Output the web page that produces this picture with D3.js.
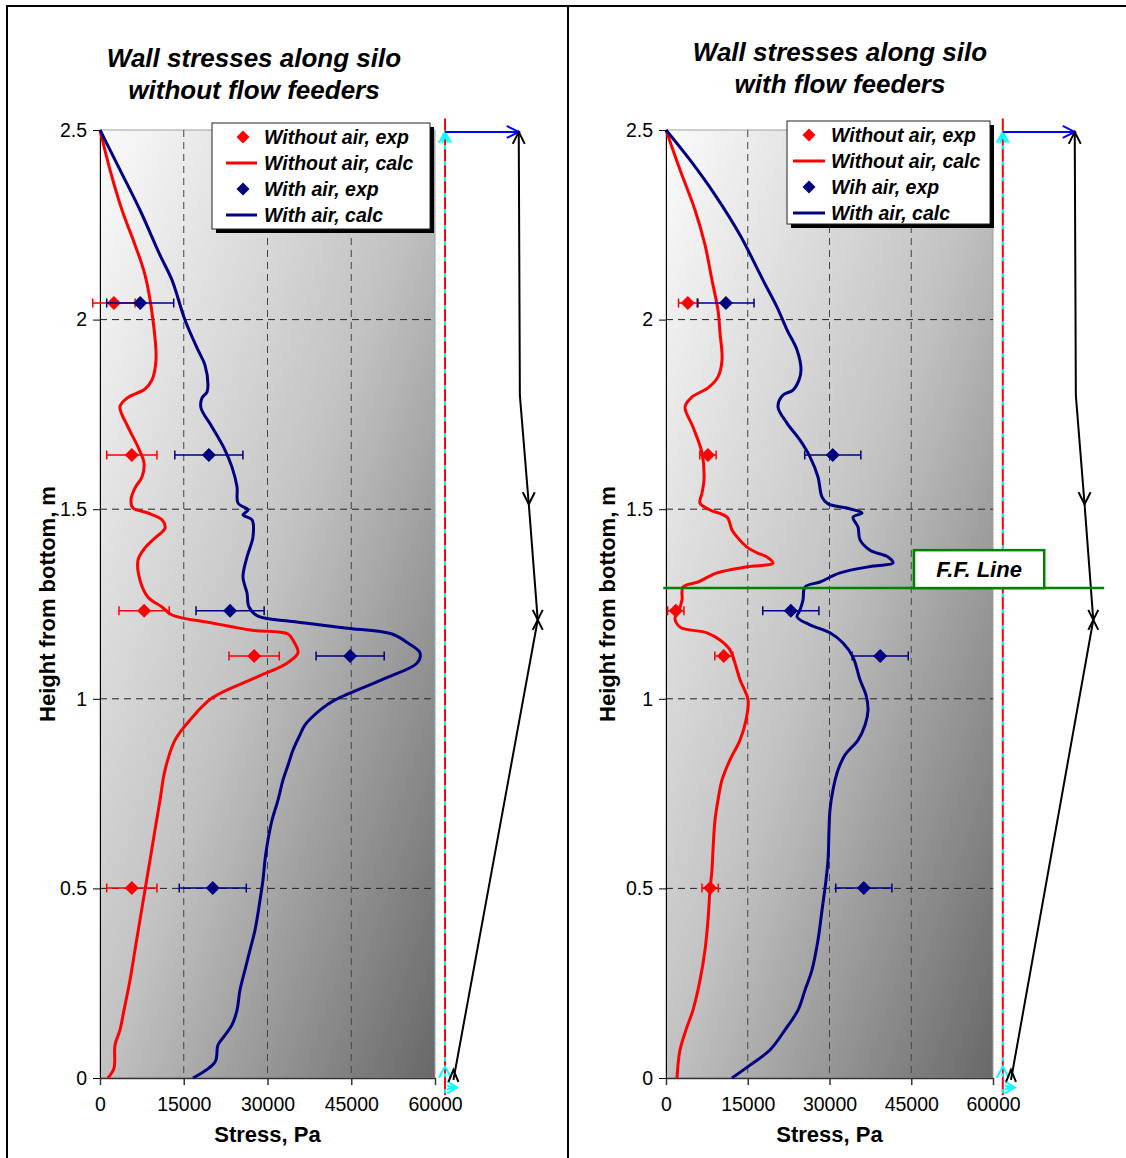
<!DOCTYPE html>
<html>
<head>
<meta charset="utf-8">
<script src="https://cdnjs.cloudflare.com/ajax/libs/d3/7.8.5/d3.min.js"></script>
<style>
  body { margin: 0; background: #fff; }
  svg { display: block; font-family: Arial, "Liberation Sans", sans-serif; }
</style>
</head>
<body>
<div id="chart"></div>
<script>

var heightTicks = [0, 0.5, 1, 1.5, 2, 2.5];
var stressTicks = [0, 15000, 30000, 45000, 60000];

// heights of the measuring points, m
var expHeights = [2.044, 1.643, 1.232, 1.113, 0.501];

// silo without flow feeders
var plainNoAirExp = [2500, 5700, 7900, 27600, 5700];
var plainNoAirErr = [3800, 4500, 4500, 4500, 4500];
var plainAirExp = [7200, 19500, 23300, 44800, 20200];
var plainAirErr = [6000, 6100, 6100, 6100, 6000];

// [stress Pa, height m]
var plainNoAirCalc = [
  [0, 2.5], [1790, 2.395], [3940, 2.289], [6270, 2.197], [8060, 2.118], [9490, 1.999],
  [10030, 1.894], [9310, 1.841], [8060, 1.817], [4840, 1.793], [3580, 1.770], [5010, 1.717],
  [6810, 1.664], [7880, 1.622], [7520, 1.585], [6270, 1.556], [5550, 1.524], [5910, 1.503],
  [8600, 1.490], [11100, 1.472], [11640, 1.450], [9850, 1.424], [8060, 1.398], [6810, 1.366],
  [7160, 1.313], [8600, 1.268], [11100, 1.242], [12900, 1.221], [20060, 1.200], [27220, 1.181],
  [33670, 1.171], [34750, 1.150], [35460, 1.121], [33490, 1.094], [27760, 1.055], [20060, 1.002],
  [16120, 0.944], [13430, 0.891], [11640, 0.812], [10750, 0.733], [9850, 0.654], [8960, 0.575],
  [8060, 0.496], [7160, 0.417], [6270, 0.338], [5370, 0.258], [4300, 0.179], [3580, 0.127],
  [2690, 0.087], [2500, 0.026], [1430, 0]
];
var plainAirCalc = [
  [0, 2.5], [3580, 2.395], [7160, 2.289], [10750, 2.170], [12900, 2.104], [15220, 1.999],
  [17550, 1.920], [18800, 1.880], [19340, 1.828], [19160, 1.809], [18260, 1.793], [18090, 1.767],
  [20060, 1.717], [22390, 1.656], [23640, 1.611], [24540, 1.559], [24720, 1.516], [26510, 1.498],
  [25610, 1.485], [27220, 1.472], [27400, 1.427], [26330, 1.374], [25610, 1.321], [26330, 1.279],
  [26690, 1.242], [28300, 1.218], [34920, 1.203], [43880, 1.187], [52300, 1.171], [55160, 1.147],
  [57310, 1.121], [56770, 1.094], [51580, 1.057], [42090, 0.997], [39400, 0.970], [36720, 0.931],
  [35820, 0.905], [34570, 0.865], [33670, 0.825], [32780, 0.786], [31880, 0.733], [30810, 0.680],
  [30090, 0.628], [29550, 0.575], [29190, 0.522], [28660, 0.469], [27760, 0.390], [26870, 0.338],
  [25970, 0.285], [25070, 0.232], [24540, 0.179], [23640, 0.140], [22390, 0.113], [21130, 0.087],
  [20600, 0.042], [16660, 0]
];

// silo with flow feeders
var feedNoAirExp = [4000, 7700, 1800, 10600, 8100];
var feedNoAirErr = [1700, 1500, 1500, 1650, 1500];
var feedAirExp = [11000, 30600, 22900, 39300, 36300];
var feedAirErr = [5150, 5150, 5150, 5150, 5150];

var feedNoAirCalc = [
  [0, 2.5], [2570, 2.395], [5320, 2.289], [7160, 2.197], [8440, 2.104], [9540, 2.025],
  [9910, 1.965], [10280, 1.894], [9540, 1.849], [7710, 1.820], [4770, 1.796], [3490, 1.770],
  [4950, 1.717], [6610, 1.648], [6970, 1.577], [6610, 1.543], [6240, 1.516], [8070, 1.498],
  [11190, 1.479], [12110, 1.445], [13030, 1.427], [14860, 1.400], [16700, 1.385], [18530, 1.374],
  [19630, 1.358], [14860, 1.348], [9360, 1.332], [5870, 1.308], [3120, 1.295], [2940, 1.261],
  [2200, 1.226], [1650, 1.213], [2570, 1.189], [7520, 1.174], [9910, 1.155], [11740, 1.129],
  [13030, 1.076], [13580, 1.050], [15050, 0.997], [14680, 0.944], [13580, 0.891], [11740, 0.839],
  [10280, 0.786], [9540, 0.733], [8990, 0.680], [8620, 0.601], [8440, 0.549], [8070, 0.496],
  [7710, 0.417], [7160, 0.338], [6240, 0.258], [4950, 0.179], [3670, 0.127], [2570, 0.074],
  [2200, 0.034], [2020, 0]
];
var feedAirCalc = [
  [0, 2.5], [4400, 2.421], [8990, 2.329], [13580, 2.223], [17800, 2.104], [20370, 2.033],
  [22200, 1.973], [24040, 1.920], [24770, 1.867], [24410, 1.841], [23300, 1.814], [21470, 1.801],
  [20550, 1.770], [22200, 1.727], [24590, 1.682], [26420, 1.638], [27890, 1.585], [28630, 1.532],
  [29730, 1.514], [33210, 1.503], [35970, 1.490], [34310, 1.479], [35230, 1.453], [35600, 1.419],
  [37430, 1.392], [40740, 1.374], [41650, 1.358], [37980, 1.350], [31930, 1.332], [28260, 1.308],
  [25510, 1.295], [25140, 1.261], [24590, 1.234], [24040, 1.216], [26420, 1.195], [30090, 1.174],
  [32480, 1.147], [34310, 1.110], [35600, 1.050], [36700, 1.010], [37070, 0.970], [36520, 0.931],
  [35230, 0.891], [32850, 0.852], [31560, 0.812], [30640, 0.760], [30090, 0.707], [29910, 0.654],
  [29730, 0.575], [29360, 0.522], [28630, 0.443], [27890, 0.364], [26790, 0.285], [25510, 0.232],
  [24220, 0.179], [21840, 0.127], [19080, 0.074], [15410, 0.034], [12110, 0]
];

var plainLegend = ["Without air, exp", "Without air, calc", "With air, exp", "With air, calc"];
var feedLegend = ["Without air, exp", "Without air, calc", "Wih air, exp", "With air, calc"];

// sketch on the right of each plot (stress / height units)
var wallStress = 61800;
var wallTop = 2.53, wallBottom = -0.045;
var profileStress = [75000, 75200, 76800, 78400, 63300];
var profileHeight = [2.495, 1.80, 1.513, 1.208, -0.005];

// flow feeder line
var ffHeight = 1.292;
var ffStart = -500, ffEnd = 80400;
var ffBoxStress = [45500, 69400], ffBoxTop = 1.392;

var W = 1126, H = 1158;
var plotTop = 130, plotBottom = 1078;
var RED = "#ff0000", NAVY = "#000080";

var svg = d3.select("#chart").append("svg")
    .attr("width", W)
    .attr("height", H);

var defs = svg.append("defs");
var grad = defs.append("linearGradient").attr("id", "plotFill")
    .attr("x1", 0).attr("y1", 0).attr("x2", 1).attr("y2", 1);
grad.append("stop").attr("offset", "0%").attr("stop-color", "#fbfbfb");
grad.append("stop").attr("offset", "50%").attr("stop-color", "#c2c2c2");
grad.append("stop").attr("offset", "100%").attr("stop-color", "#686868");

// outer frame + divider
svg.append("rect")
    .attr("x", 7).attr("y", 6).attr("width", 1130).attr("height", 1170)
    .attr("fill", "none").attr("stroke", "#000").attr("stroke-width", 2);
svg.append("line")
    .attr("x1", 568).attr("x2", 568).attr("y1", 6).attr("y2", H)
    .attr("stroke", "#000").attr("stroke-width", 2);

function diamond(s) {
  return "M0," + (-s) + "L" + s + ",0L0," + s + "L" + (-s) + ",0Z";
}

var panels = [
  {
    left: 100, right: 435, titleX: 254, titleY: [67, 99],
    title: ["Wall stresses along silo", "without flow feeders"],
    noAirCalc: plainNoAirCalc, airCalc: plainAirCalc,
    noAirExp: plainNoAirExp, noAirErr: plainNoAirErr,
    airExp: plainAirExp, airErr: plainAirErr,
    legend: { x: 212, y: 123, w: 218, h: 106, sym: 31, line: [14, 45], text: 52 },
    labels: plainLegend, ff: false, yLabelX: 55
  },
  {
    left: 666, right: 993, titleX: 840, titleY: [61, 93],
    title: ["Wall stresses along silo", "with flow feeders"],
    noAirCalc: feedNoAirCalc, airCalc: feedAirCalc,
    noAirExp: feedNoAirExp, noAirErr: feedNoAirErr,
    airExp: feedAirExp, airErr: feedAirErr,
    legend: { x: 787, y: 121, w: 203, h: 103, sym: 22, line: [6, 38], text: 44 },
    labels: feedLegend, ff: true, yLabelX: 615
  }
];

panels.forEach(function(p) {
  var x = d3.scaleLinear().domain([0, 60000]).range([p.left, p.right]);
  var y = d3.scaleLinear().domain([0, 2.5]).range([plotBottom, plotTop]);
  var g = svg.append("g");

  g.append("rect")
      .attr("x", p.left).attr("y", plotTop)
      .attr("width", p.right - p.left).attr("height", plotBottom - plotTop)
      .attr("fill", "url(#plotFill)").attr("stroke", "#a0a0a0");

  // dashed grid
  g.selectAll(".vgrid").data(stressTicks.slice(1, -1)).enter().append("line")
      .attr("x1", d => x(d)).attr("x2", d => x(d))
      .attr("y1", plotTop).attr("y2", plotBottom)
      .attr("stroke", "#444").attr("stroke-dasharray", "7,5");
  g.selectAll(".hgrid").data(heightTicks.slice(1, -1)).enter().append("line")
      .attr("x1", p.left).attr("x2", p.right)
      .attr("y1", d => y(d)).attr("y2", d => y(d))
      .attr("stroke", "#222").attr("stroke-dasharray", "7,5");

  var yAxis = d3.axisLeft(y).tickValues(heightTicks).tickFormat(d3.format(""))
      .tickSize(7).tickSizeOuter(0).tickPadding(6);
  var ya = g.append("g").attr("transform", "translate(" + p.left + ",0)").call(yAxis);
  ya.attr("font-size", 19.5).attr("font-family", "Arial, 'Liberation Sans', sans-serif");
  ya.selectAll("line, path").attr("stroke", "#000");

  var xAxis = d3.axisBottom(x).tickValues(stressTicks).tickFormat(d3.format("d"))
      .tickSize(7).tickSizeOuter(0).tickPadding(12);
  var xa = g.append("g").attr("transform", "translate(0," + plotBottom + ")").call(xAxis);
  xa.attr("font-size", 19.5).attr("font-family", "Arial, 'Liberation Sans', sans-serif");
  xa.selectAll("line, path").attr("stroke", "#333").attr("stroke-width", 1.5);

  // calc curves
  var line = d3.line().x(d => x(d[0])).y(d => y(d[1])).curve(d3.curveCatmullRom.alpha(0.5));
  g.append("path").datum(p.noAirCalc).attr("d", line)
      .attr("fill", "none").attr("stroke", RED).attr("stroke-width", 3);
  g.append("path").datum(p.airCalc).attr("d", line)
      .attr("fill", "none").attr("stroke", NAVY).attr("stroke-width", 3);

  // exp points with error bars
  function expSeries(vals, errs, color) {
    var pts = vals.map((v, i) => ({ v: v, e: errs[i], h: expHeights[i] }));
    var eg = g.append("g");
    eg.selectAll(".bar").data(pts).enter().append("path")
        .attr("d", d => "M" + x(d.v - d.e) + "," + (y(d.h) - 4.5) + "V" + (y(d.h) + 4.5) +
          "M" + x(d.v - d.e) + "," + y(d.h) + "H" + x(d.v + d.e) +
          "M" + x(d.v + d.e) + "," + (y(d.h) - 4.5) + "V" + (y(d.h) + 4.5))
        .attr("fill", "none").attr("stroke", color).attr("stroke-width", 1.5);
    eg.selectAll(".pt").data(pts).enter().append("path")
        .attr("d", diamond(7))
        .attr("transform", d => "translate(" + x(d.v) + "," + y(d.h) + ")")
        .attr("fill", color);
  }
  expSeries(p.noAirExp, p.noAirErr, RED);
  expSeries(p.airExp, p.airErr, NAVY);

  // sketch: wall line, arrows and profile
  var xw = x(wallStress);
  g.append("line").attr("x1", xw).attr("x2", xw).attr("y1", y(wallTop)).attr("y2", y(wallBottom))
      .attr("stroke", RED).attr("stroke-width", 2);
  g.append("line").attr("x1", xw).attr("x2", xw).attr("y1", y(2.46)).attr("y2", y(wallBottom))
      .attr("stroke", "#00ffff").attr("stroke-width", 2).attr("stroke-dasharray", "4,12");
  g.append("path").attr("d", "M-6,11L0,0L6,11M-3,11L0,4L3,11")
      .attr("transform", "translate(" + xw + "," + y(2.495) + ")")
      .attr("fill", "none").attr("stroke", "#00ffff").attr("stroke-width", 2);
  g.append("path").attr("d", "M-6,11L0,0L6,11")
      .attr("transform", "translate(" + xw + "," + (y(0.03)) + ")")
      .attr("fill", "none").attr("stroke", "#00ffff").attr("stroke-width", 2);
  g.append("path").attr("d", "M0,-6L10,0L0,6M0,-2L6,0L0,2")
      .attr("transform", "translate(" + (xw + 2) + "," + y(-0.025) + ")")
      .attr("fill", "none").attr("stroke", "#00ffff").attr("stroke-width", 2);

  var xp0 = x(profileStress[0]), yp0 = y(profileHeight[0]);
  g.append("line").attr("x1", xw).attr("x2", xp0).attr("y1", yp0).attr("y2", yp0)
      .attr("stroke", "#0000ff").attr("stroke-width", 2);
  g.append("path").attr("d", "M-12,-6L0,0L-12,6")
      .attr("transform", "translate(" + xp0 + "," + yp0 + ")")
      .attr("fill", "none").attr("stroke", "#0000ff").attr("stroke-width", 2);

  var prof = profileStress.map((s, i) => [s, profileHeight[i]]);
  g.append("path").datum(prof).attr("d", d3.line().x(d => x(d[0])).y(d => y(d[1])))
      .attr("fill", "none").attr("stroke", "#000").attr("stroke-width", 2);
  g.append("path").attr("d", "M-6,12L0,0L6,12")
      .attr("transform", "translate(" + xp0 + "," + yp0 + ")")
      .attr("fill", "none").attr("stroke", "#000").attr("stroke-width", 2);
  g.append("path").attr("d", "M-6,-12L0,0L6,-12")
      .attr("transform", "translate(" + x(prof[2][0]) + "," + y(prof[2][1]) + ")")
      .attr("fill", "none").attr("stroke", "#000").attr("stroke-width", 2);
  g.append("path").attr("d", "M-5,-10L5,10M5,-10L-5,10")
      .attr("transform", "translate(" + x(prof[3][0]) + "," + y(prof[3][1]) + ")")
      .attr("fill", "none").attr("stroke", "#000").attr("stroke-width", 2);
  g.append("path").attr("d", "M-5,12L0,0L5,12")
      .attr("transform", "translate(" + x(prof[4][0]) + "," + (y(prof[4][1]) - 10) + ")")
      .attr("fill", "none").attr("stroke", "#000").attr("stroke-width", 2);

  // flow feeder line
  if (p.ff) {
    g.append("line").attr("x1", x(ffStart)).attr("x2", x(ffEnd))
        .attr("y1", y(ffHeight)).attr("y2", y(ffHeight))
        .attr("stroke", "#008000").attr("stroke-width", 2.5);
    g.append("rect")
        .attr("x", x(ffBoxStress[0])).attr("y", y(ffBoxTop))
        .attr("width", x(ffBoxStress[1]) - x(ffBoxStress[0]))
        .attr("height", y(ffHeight) - y(ffBoxTop))
        .attr("fill", "#fff").attr("stroke", "#008000").attr("stroke-width", 2.5);
    g.append("text")
        .attr("x", (x(ffBoxStress[0]) + x(ffBoxStress[1])) / 2)
        .attr("y", y(ffHeight) - 11)
        .attr("text-anchor", "middle")
        .attr("font-size", 22).attr("font-weight", "bold").attr("font-style", "italic")
        .text("F.F. Line");
  }

  // legend
  var L = p.legend;
  g.append("rect").attr("x", L.x + 4).attr("y", L.y + 4).attr("width", L.w).attr("height", L.h)
      .attr("fill", "#000");
  g.append("rect").attr("x", L.x).attr("y", L.y).attr("width", L.w).attr("height", L.h)
      .attr("fill", "#fff").attr("stroke", "#222").attr("stroke-width", 1);
  var colors = [RED, RED, NAVY, NAVY];
  p.labels.forEach(function(lab, i) {
    var ry = L.y + 14 + i * 26;
    if (i % 2 === 0) {
      g.append("path").attr("d", diamond(6.5))
          .attr("transform", "translate(" + (L.x + L.sym) + "," + ry + ")")
          .attr("fill", colors[i]);
    } else {
      g.append("line").attr("x1", L.x + L.line[0]).attr("x2", L.x + L.line[1])
          .attr("y1", ry).attr("y2", ry)
          .attr("stroke", colors[i]).attr("stroke-width", 3);
    }
    g.append("text").attr("x", L.x + L.text).attr("y", ry + 7)
        .attr("font-size", 19.5).attr("font-weight", "bold").attr("font-style", "italic")
        .text(lab);
  });

  // titles and axis labels
  p.title.forEach(function(t, i) {
    g.append("text").attr("x", p.titleX).attr("y", p.titleY[i])
        .attr("text-anchor", "middle")
        .attr("font-size", 26).attr("font-weight", "bold").attr("font-style", "italic")
        .text(t);
  });
  g.append("text")
      .attr("x", (p.left + p.right) / 2).attr("y", 1142)
      .attr("text-anchor", "middle")
      .attr("font-size", 22).attr("font-weight", "bold")
      .text("Stress, Pa");
  g.append("text")
      .attr("transform", "translate(" + p.yLabelX + "," + ((plotTop + plotBottom) / 2) + ") rotate(-90)")
      .attr("text-anchor", "middle")
      .attr("font-size", 22).attr("font-weight", "bold")
      .text("Height from bottom, m");
});

</script>
</body>
</html>
